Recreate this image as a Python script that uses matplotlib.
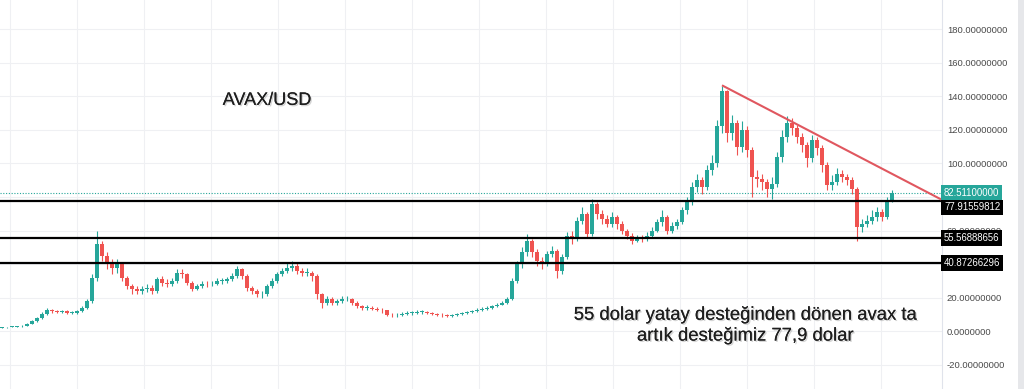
import matplotlib
matplotlib.use('Agg')
import matplotlib.pyplot as plt
import matplotlib.patheffects as pe
import numpy as np

plt.rcParams['font.family'] = ['Liberation Sans', 'DejaVu Sans']

# candle data (roughly 2-day candles, AVAX/USD)
closes = [2.5, 2.6, 2.8, 3.0, 3.5, 4.5, 6, 8, 10.5, 12.5,
          12, 11.5, 12, 11, 11, 12, 14, 18, 32, 52,
          45, 40, 38, 40, 32, 27, 25, 24, 25, 26,
          24, 31, 29, 28, 30, 35, 34, 29, 25.5, 27,
          28.5, 28, 28.5, 30, 30, 31, 33, 37, 33, 26,
          24, 22, 22, 27, 30, 34, 36, 38, 39, 36,
          35, 35, 33, 22, 17, 19.5, 17, 18, 19, 19.5,
          17, 15, 14, 14, 13.5, 13, 12.5, 10, 9.5, 10,
          10.5, 11, 11, 11.5, 11.5, 11, 10.5, 10, 9.5, 9,
          9.5, 10.5, 11, 11.5, 12, 13, 13.5, 14, 15, 16,
          17, 19, 30, 40, 47, 54, 47, 42, 40, 46,
          48, 36, 44, 57, 55, 66, 70, 58, 76, 70,
          67, 64, 68, 64, 60, 57, 54, 56, 55, 57,
          60, 65, 68, 60, 63, 65, 72, 77, 86, 90,
          86, 96, 100, 122, 143, 118, 124, 110, 120, 108,
          92, 91, 89, 85, 88, 104, 116, 124, 121, 116,
          111, 103, 114, 109, 99, 87, 89, 94, 92, 90,
          85, 62, 64, 66, 68, 71, 68, 78, 82.5]
highs = [2.8, 2.9, 3.1, 3.4, 3.9, 5.0, 6.6, 8.8, 11.5, 13.8,
         13.5, 12.8, 13, 12.6, 12, 12.9, 15, 19.5, 34, 60,
         54, 47, 43, 43, 41, 33, 28.5, 27, 27, 28,
         27.5, 32.5, 33, 31, 31.5, 37, 37, 35, 30, 28.5,
         30, 30, 30, 31.5, 31.5, 32.5, 34.5, 39, 38, 34,
         27, 25, 24, 28, 31.5, 35.5, 38, 41, 42, 41,
         38, 37.5, 36, 34, 23, 21, 20.5, 19.5, 21, 21,
         20, 18, 16, 15.5, 15, 14.5, 14, 13, 11, 11,
         11.5, 12, 12.2, 12.5, 12.6, 12.2, 11.8, 11.2, 10.8, 10.2,
         10.4, 11.2, 11.8, 12.4, 13, 14, 14.5, 15, 16, 17,
         18, 20.5, 32, 42, 50, 58, 55, 49, 44, 48,
         51, 49, 46, 59, 60, 68, 74, 71, 79, 77,
         72, 69, 71, 69, 66, 61, 58.5, 57.5, 57.5, 59,
         62, 67, 72, 69, 65, 67, 74, 80, 89, 94,
         92, 99, 105, 126, 146, 144, 129, 126, 125, 122,
         110, 96, 94, 91, 92, 107, 120, 128, 127, 123,
         118, 113, 117, 116, 111, 101, 93, 97, 96, 94,
         92, 86, 67, 69, 72, 74, 73, 80, 84]
lows = [2.1, 2.3, 2.4, 2.6, 2.9, 3.3, 4.2, 5.6, 7.6, 10,
        11.2, 10.8, 11, 10.3, 10.2, 10.6, 11.5, 13.5, 17, 30,
        42, 37, 34, 35, 30, 25, 22.5, 22, 22.5, 23.5,
        22.5, 23, 27, 26.5, 27, 29, 32, 27.5, 24, 24.5,
        26, 26.5, 27, 27.5, 28.5, 29, 30, 32, 31, 24,
        22, 20.5, 20, 21, 26, 29, 33, 35, 36, 34,
        33, 33, 30, 19, 14, 16, 15.5, 16, 17, 18,
        16, 14, 13, 12.5, 12.5, 12, 11, 9, 8.5, 8.8,
        9.2, 9.8, 10, 10.2, 10.5, 10.2, 9.8, 9.3, 8.8, 8.3,
        8.5, 9, 10, 10.4, 11, 11.5, 12.4, 13, 13.5, 14.5,
        15.5, 16.5, 18.5, 29, 38, 45, 44, 39, 37, 39,
        44, 32, 34, 43, 52, 54, 64, 56, 57, 67,
        64, 62, 62, 61, 58, 55, 52, 53, 53.5, 54,
        55.5, 59, 63, 58, 58.5, 61, 64, 70, 75, 83,
        82, 84, 93, 98, 118, 113, 114, 105, 107, 104,
        80, 86, 84, 80, 79, 86, 101, 113, 117, 112,
        107, 98, 101, 105, 95, 84, 84, 87, 89, 87,
        82, 54, 59, 62, 64, 66, 66, 67, 77]
first_open = 2.3

# horizontal support levels and current price
supports = [77.91559812, 55.56888656, 40.87266296]
last_price = 82.511
# trendline from the top (candle index, price) to the right edge
trend_x = [144, 188]
trend_y = [146.5, 78.3]

# 40 and 80 are hidden behind the price tags on the real scale
ytick_vals = [-20, 0, 20, 60, 100, 120, 140, 160, 180]
ytick_labels = ['-20.00000000', '0.0000000', '20.00000000',
                '60.00000000', '100.00000000', '120.00000000',
                '140.00000000', '160.00000000', '180.00000000']
grid_y = [-20, 0, 20, 40, 60, 80, 100, 120, 140, 160, 180]
grid_x = [1.6, 15.0, 28.4, 41.8, 55.2, 68.6, 82.0, 95.4, 108.8, 122.2,
          135.6, 149.0, 162.4, 175.8]

UP = '#26a69a'
DOWN = '#ef5350'

fig = plt.figure(figsize=(10.24, 3.89), dpi=100)
fig.patch.set_facecolor('white')
ax = fig.add_axes([0, 0, 942 / 1024, 1])

closes = np.array(closes)
opens = np.concatenate([[first_open], closes[:-1]])
idx = np.arange(len(closes))
up = closes >= opens
colors = np.where(up, UP, DOWN)
body_lo = np.minimum(opens, closes)
body_h = np.maximum(np.abs(closes - opens), 0.4)

ax.vlines(idx, lows, highs, colors=colors, lw=0.8, zorder=3)
ax.bar(idx, body_h, bottom=body_lo, width=0.62, color=colors, lw=0, zorder=4)

# grid drawn by hand so that hidden tick labels still get a line
for gy in grid_y:
    ax.axhline(gy, color='#eff0f3', lw=0.8, zorder=0)
for gx in grid_x:
    ax.axvline(gx, color='#eff0f3', lw=0.8, zorder=0)

# price line
ax.axhline(last_price, color=UP, ls=(0, (1, 1.5)), lw=0.8, zorder=2)
for s in supports:
    ax.axhline(s, color='black', lw=1.6, zorder=5)
ax.plot(trend_x, trend_y, color='#e0575f', lw=1.5, zorder=6, solid_capstyle='butt')

ax.set_xlim(-0.4, 188)
ax.set_ylim(-34.3, 197.3)
ax.set_xticks([])
ax.set_yticks(ytick_vals)
ax.set_yticklabels(ytick_labels)
ax.yaxis.tick_right()
ax.tick_params(axis='y', length=0, pad=3.5, labelsize=6.8, labelcolor='#4a4a4a')
for side in ['left', 'top', 'bottom']:
    ax.spines[side].set_visible(False)
ax.spines['right'].set_color('#e0e3eb')
ax.spines['right'].set_linewidth(0.8)

# price labels on the scale
def price_tag(val, txt, face, dy=0):
    ax.annotate(txt, xy=(1, val), xycoords=('axes fraction', 'data'),
                xytext=(1.5, dy), textcoords='offset points',
                ha='left', va='center', fontsize=6.9, color='white',
                annotation_clip=False, zorder=10,
                bbox=dict(boxstyle='square,pad=0.3', fc=face, ec='none'))

price_tag(last_price, '82.51100000', UP)
price_tag(supports[0], '77.91559812', 'black', dy=-5)
price_tag(supports[1], '55.56888656', 'black')
price_tag(supports[2], '40.87266296', 'black')

shadow = [pe.withSimplePatchShadow(offset=(1.0, -1.0), shadow_rgbFace='#666666', alpha=0.28),
          pe.Normal()]
ax.text(0.2364, 0.742, 'AVAX/USD', transform=ax.transAxes, fontsize=13,
        color='#1e1e1e', ha='left', va='center', path_effects=shadow)
ax.text(0.791, 0.163, '55 dolar yatay desteğinden dönen avax ta\nartık desteğimiz 77,9 dolar',
        transform=ax.transAxes, fontsize=13.3, color='#1e1e1e', ha='center',
        va='center', linespacing=1.3, path_effects=shadow)

# grey border strip at the far right
fig.patches.append(plt.Rectangle((1018 / 1024, 0), 6 / 1024, 1, transform=fig.transFigure,
                                 fc='#e6e7ea', ec='none'))

fig.savefig('out.png', dpi=100, facecolor='white')
